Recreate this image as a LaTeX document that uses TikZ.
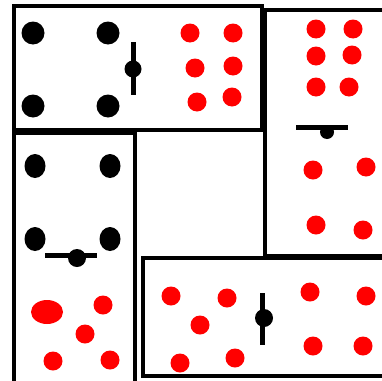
\documentclass[tikz,border=0pt]{standalone}
\begin{document}
\begin{tikzpicture}[x=1pt,y=-1pt, tile/.style={draw,line width=4.5pt}, bar/.style={line width=5pt}, pip/.style={fill=black}, redpip/.style={fill=red}]
\fill[white] (0,0) rectangle (382,380); \useasboundingbox (0,0) rectangle (382,380); \clip (0,0) rectangle (382,380);
\draw[tile] (14,6) rectangle (262,130); \draw[tile] (265,10) rectangle (392,256);
\draw[tile] (14,133) rectangle (135,392); \draw[tile] (143,258) rectangle (392,376);
\draw[bar] (133,42)--(133,95); \fill (133,69) circle[radius=8.5pt];
\draw[bar] (296,127)--(348,127); \fill (327,132) circle[radius=7pt];
\draw[bar] (45,255)--(97,255); \fill (77,258) circle[radius=9pt];
\draw[bar] (262,293)--(262,345); \fill (264,318) circle[radius=9pt];
\foreach \p in {(33,33),(108,33),(33,106),(108,106)} \fill[pip] \p circle[radius=11.5pt];
\foreach \p in {(35,166),(110,166),(35,239),(110,239)} \fill[pip] \p ellipse[x radius=10.5pt,y radius=12pt];
\foreach \p in {(190,33),(233,33),(195,68),(233,66),(197,102),(232,97),
  (316,29),(353,29),(316,56),(352,55),(316,87),(349,87),(313,170),(366,167),(316,225),(363,230),
  (103,305),(85,334),(53,361),(110,360),
  (171,296),(227,298),(200,325),(180,363),(235,358),(310,292),(366,296),(313,346),(363,346)}
  \fill[redpip] \p circle[radius=9.5pt];
\fill[redpip] (47,312) ellipse[x radius=16pt,y radius=12pt];
\end{tikzpicture}
\end{document}
